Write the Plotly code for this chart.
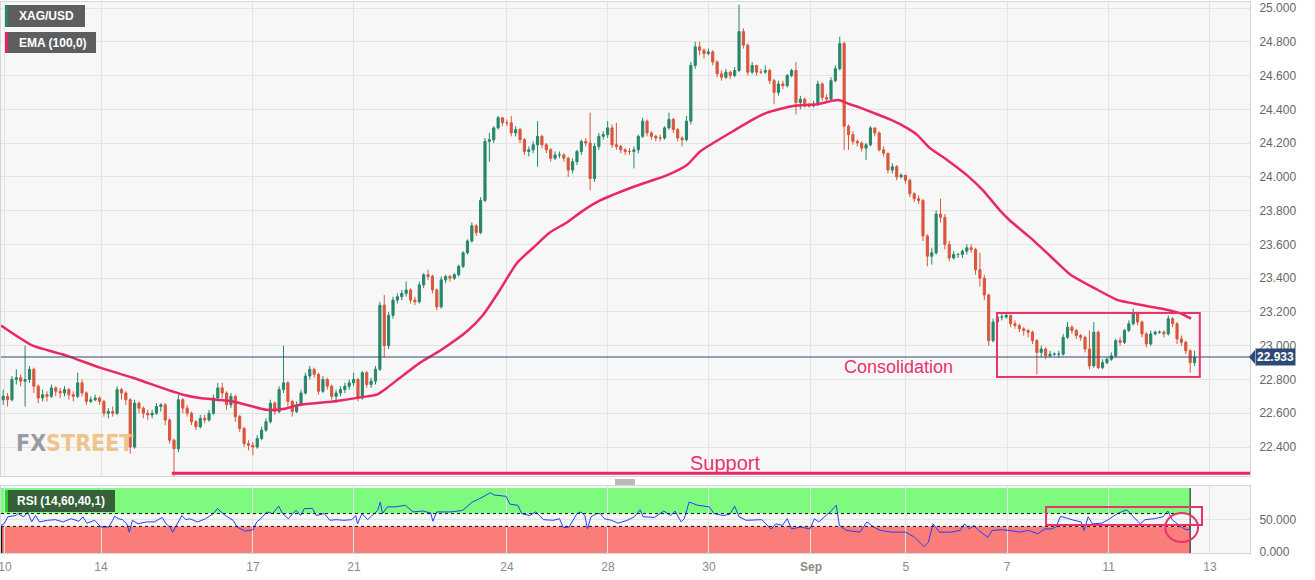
import plotly.graph_objects as go

# ---------------- data ----------------
first_open = 22.68
close = [
    22.70, 22.68, 22.80, 22.81, 22.79, 22.80, 22.86, 22.76, 22.69, 22.71,
    22.70, 22.75, 22.73, 22.72, 22.74, 22.71, 22.70, 22.78, 22.72, 22.67,
    22.68, 22.69, 22.67, 22.60, 22.61, 22.60, 22.74, 22.72, 22.68, 22.40,
    22.66, 22.63, 22.60, 22.59, 22.60, 22.64, 22.65, 22.56, 22.44, 22.39,
    22.68, 22.63, 22.60, 22.55, 22.52, 22.57, 22.56, 22.60, 22.69, 22.75,
    22.72, 22.65, 22.70, 22.58, 22.51, 22.42, 22.41, 22.40, 22.45, 22.50,
    22.55, 22.66, 22.61, 22.74, 22.78, 22.67, 22.61, 22.65, 22.72, 22.82,
    22.86, 22.83, 22.73, 22.80, 22.76, 22.70, 22.72, 22.74, 22.76, 22.78,
    22.80, 22.69, 22.84, 22.77, 22.79, 22.86, 23.24, 23.00, 23.18, 23.27,
    23.29, 23.31, 23.33, 23.27, 23.26, 23.36, 23.42, 23.41, 23.33, 23.23,
    23.39, 23.41, 23.40, 23.42, 23.47, 23.55, 23.62, 23.71, 23.67, 23.86,
    24.21, 24.22, 24.29, 24.35, 24.32, 24.32, 24.26, 24.28, 24.22, 24.15,
    24.16, 24.19, 24.24, 24.19, 24.16, 24.11, 24.13, 24.13, 24.11, 24.04,
    24.09, 24.15, 24.21, 24.20, 23.99, 24.18, 24.24, 24.25, 24.29, 24.19,
    24.18, 24.16, 24.15, 24.15, 24.16, 24.24, 24.33, 24.26, 24.24, 24.23,
    24.23, 24.29, 24.34, 24.28, 24.23, 24.22, 24.33, 24.66, 24.77, 24.75,
    24.73, 24.74, 24.68, 24.61, 24.59, 24.62, 24.60, 24.63, 24.86, 24.78,
    24.62, 24.66, 24.62, 24.62, 24.63, 24.57, 24.50, 24.55, 24.54, 24.60,
    24.63, 24.44, 24.46, 24.42, 24.42, 24.43, 24.55, 24.47, 24.46, 24.57,
    24.64, 24.79, 24.30, 24.25, 24.21, 24.20, 24.17, 24.19, 24.29, 24.26,
    24.16, 24.14, 24.04, 24.06, 24.00, 24.01, 23.98, 23.90, 23.87, 23.86,
    23.65, 23.53, 23.55, 23.78, 23.76, 23.60, 23.52, 23.54, 23.54, 23.56,
    23.58, 23.57, 23.45, 23.40, 23.30, 23.03, 23.14, 23.17, 23.17, 23.18,
    23.13, 23.12, 23.10, 23.09, 23.08, 23.03, 22.96, 22.98, 22.94, 22.95,
    22.95, 22.95, 23.05, 23.11, 23.09, 23.06, 23.05, 22.98, 22.88, 23.08,
    22.87, 22.90, 22.92, 22.94, 23.03, 23.02, 23.09, 23.13, 23.19, 23.14,
    23.07, 23.01, 23.07, 23.08, 23.08, 23.07, 23.16, 23.13, 23.04, 23.02,
    22.97, 22.90, 22.933,
]
high = [
    22.74, 22.72, 22.82, 22.86, 22.83, 23.00, 22.88, 22.87, 22.77, 22.74,
    22.73, 22.77, 22.76, 22.75, 22.76, 22.75, 22.73, 22.84, 22.80, 22.73,
    22.70, 22.71, 22.70, 22.68, 22.63, 22.64, 22.76, 22.75, 22.73, 22.69,
    22.68, 22.67, 22.64, 22.62, 22.62, 22.66, 22.66, 22.66, 22.57, 22.45,
    22.71, 22.69, 22.65, 22.61, 22.56, 22.59, 22.59, 22.62, 22.71, 22.78,
    22.78, 22.73, 22.72, 22.71, 22.59, 22.52, 22.44, 22.43, 22.47, 22.52,
    22.57, 22.68, 22.67, 22.76, 23.00, 22.79, 22.68, 22.67, 22.74, 22.84,
    22.88, 22.87, 22.84, 22.82, 22.81, 22.77, 22.74, 22.76, 22.78, 22.80,
    22.84, 22.81, 22.85, 22.85, 22.81, 22.88, 23.26, 23.30, 23.20, 23.29,
    23.31, 23.33, 23.38, 23.34, 23.29, 23.38, 23.43, 23.45, 23.42, 23.34,
    23.41, 23.42, 23.42, 23.43, 23.48, 23.56, 23.63, 23.73, 23.72, 23.88,
    24.23, 24.26, 24.30, 24.36, 24.35, 24.34, 24.36, 24.30, 24.29, 24.23,
    24.18, 24.21, 24.33, 24.25, 24.20, 24.17, 24.15, 24.15, 24.14, 24.12,
    24.11, 24.16, 24.22, 24.23, 24.38, 24.20, 24.26, 24.27, 24.33, 24.31,
    24.32, 24.19, 24.17, 24.17, 24.18, 24.25, 24.35, 24.34, 24.27, 24.25,
    24.25, 24.30, 24.38, 24.35, 24.29, 24.24, 24.36, 24.68, 24.80, 24.80,
    24.76, 24.76, 24.75, 24.69, 24.63, 24.64, 24.63, 24.65, 25.02, 24.88,
    24.79, 24.68, 24.66, 24.64, 24.66, 24.64, 24.58, 24.57, 24.57, 24.61,
    24.64, 24.68, 24.48, 24.47, 24.44, 24.45, 24.57, 24.56, 24.49, 24.59,
    24.66, 24.83, 24.80, 24.31, 24.27, 24.22, 24.21, 24.20, 24.30, 24.29,
    24.27, 24.18, 24.14, 24.08, 24.07, 24.02, 24.01, 23.99, 23.91, 23.89,
    23.87, 23.66, 23.58, 23.80, 23.87, 23.78, 23.62, 23.56, 23.55, 23.57,
    23.60, 23.60, 23.58, 23.55, 23.42, 23.31, 23.16, 23.18, 23.19, 23.19,
    23.18, 23.15, 23.13, 23.11, 23.10, 23.09, 23.04, 23.00, 22.99, 22.97,
    22.96, 22.97, 23.07, 23.14, 23.12, 23.10, 23.07, 23.06, 23.09, 23.14,
    23.09, 22.92, 22.93, 22.96, 23.04, 23.05, 23.10, 23.15, 23.22, 23.20,
    23.15, 23.08, 23.09, 23.09, 23.09, 23.09, 23.18, 23.17, 23.14, 23.06,
    23.03, 22.98, 22.97,
]
low = [
    22.65, 22.64, 22.67, 22.77, 22.76, 22.64, 22.78, 22.72, 22.66, 22.67,
    22.67, 22.69, 22.70, 22.69, 22.70, 22.68, 22.67, 22.69, 22.70, 22.65,
    22.66, 22.67, 22.65, 22.58, 22.57, 22.58, 22.59, 22.68, 22.65, 22.36,
    22.39, 22.60, 22.57, 22.56, 22.57, 22.59, 22.61, 22.53, 22.42, 22.22,
    22.37, 22.60, 22.58, 22.53, 22.50, 22.51, 22.54, 22.55, 22.59, 22.67,
    22.69, 22.62, 22.63, 22.55, 22.49, 22.40, 22.38, 22.35, 22.39, 22.44,
    22.49, 22.54, 22.59, 22.60, 22.72, 22.64, 22.58, 22.60, 22.64, 22.71,
    22.80, 22.81, 22.71, 22.72, 22.74, 22.68, 22.66, 22.70, 22.72, 22.74,
    22.76, 22.67, 22.68, 22.75, 22.75, 22.77, 22.85, 22.93, 22.98, 23.16,
    23.25, 23.27, 23.29, 23.25, 23.24, 23.25, 23.34, 23.39, 23.31, 23.21,
    23.22, 23.37, 23.38, 23.39, 23.41, 23.46, 23.54, 23.61, 23.65, 23.66,
    23.85, 24.09, 24.20, 24.28, 24.30, 24.30, 24.24, 24.24, 24.20, 24.13,
    24.12, 24.14, 24.06, 24.17, 24.14, 24.09, 24.10, 24.11, 24.09, 24.00,
    24.02, 24.07, 24.13, 24.18, 23.92, 23.97, 24.16, 24.22, 24.23, 24.17,
    24.16, 24.14, 24.13, 24.13, 24.05, 24.14, 24.23, 24.24, 24.22, 24.21,
    24.21, 24.22, 24.28, 24.26, 24.21, 24.18, 24.21, 24.31, 24.64, 24.72,
    24.70, 24.72, 24.66, 24.59, 24.57, 24.58, 24.58, 24.59, 24.62, 24.76,
    24.60, 24.61, 24.60, 24.61, 24.61, 24.55, 24.43, 24.48, 24.52, 24.53,
    24.59, 24.37, 24.40, 24.41, 24.41, 24.41, 24.42, 24.45, 24.44, 24.45,
    24.56, 24.63, 24.16, 24.16, 24.19, 24.18, 24.15, 24.10, 24.18, 24.24,
    24.15, 24.12, 24.02, 24.02, 23.98, 23.99, 23.96, 23.88, 23.85, 23.84,
    23.62, 23.47, 23.48, 23.54, 23.73, 23.57, 23.50, 23.51, 23.52, 23.52,
    23.54, 23.55, 23.42, 23.35, 23.27, 23.00, 23.02, 23.10, 23.15, 23.16,
    23.11, 23.10, 23.08, 23.06, 23.05, 23.01, 22.83, 22.93, 22.92, 22.93,
    22.94, 22.93, 22.94, 23.04, 23.07, 23.04, 23.03, 22.96, 22.86, 22.87,
    22.86, 22.86, 22.89, 22.91, 22.93, 23.00, 23.01, 23.08, 23.12, 23.12,
    23.05, 22.99, 23.00, 23.06, 23.07, 23.05, 23.06, 23.11, 23.01, 23.00,
    22.95, 22.84, 22.88,
]

ema_k = [-0.5, 6.8, 14.6, 22.1, 29.6, 37.4, 41.1, 44.9, 48.7, 52.5,
         60.2, 63.9, 67.8, 75.3, 83.1, 85.3, 87.6, 90.6, 95.2, 99.7,
         106.1, 109.5, 113.4, 117.3, 121.0, 124.8, 128.7, 132.4, 136.3, 143.8,
         151.6, 156.1, 159.1, 166.6, 170.5, 174.4, 180.3, 185.8, 190.6, 193.3,
         195.6, 198.6, 202.5, 206.3, 208.6, 211.6, 215.5, 220.0, 223.7, 227.6,
         229.9, 234.5, 239.1, 243.7, 249.9, 254.5, 258.1, 264.3, 268.9, 271.2]
ema_v = [23.12, 23.00, 22.94, 22.87, 22.81, 22.74, 22.71, 22.69, 22.68, 22.67,
         22.62, 22.625, 22.65, 22.67, 22.70, 22.71, 22.75, 22.81, 22.90, 22.97,
         23.09, 23.18, 23.33, 23.49, 23.58, 23.67, 23.73, 23.80, 23.86, 23.94,
         24.01, 24.07, 24.15, 24.27, 24.33, 24.38, 24.42, 24.43, 24.455, 24.43,
         24.41, 24.38, 24.34, 24.29, 24.25, 24.17, 24.10, 24.01, 23.92, 23.80,
         23.74, 23.64, 23.53, 23.42, 23.33, 23.27, 23.25, 23.22, 23.19, 23.16]

rsi_k = [-0.5, 0.18, 1.08, 2.88, 3.33, 4.68, 5.59, 6.49, 7.39, 8.29,
         10.1, 11.9, 13.7, 15.5, 17.3, 18.2, 19.1, 20.9, 22.3, 24.1,
         25.0, 25.4, 26.3, 27.2, 28.2, 28.8, 29.5, 30.8, 32.7, 34.5,
         35.4, 36.3, 37.2, 38.1, 38.7, 39.4, 40.8, 41.7, 42.6, 44.4,
         46.2, 48.0, 48.9, 50.7, 52.5, 53.4, 55.2, 57.0, 57.9, 58.8,
         60.2, 61.5, 62.9, 63.8, 65.1, 66.1, 66.9, 67.9, 68.8, 70.6,
         71.5, 73.3, 74.6, 76.0, 77.8, 79.6, 80.5, 80.9, 81.9, 83.2,
         84.6, 85.5, 86.1, 86.6, 87.7, 89.5, 91.8, 93.6, 95.8, 97.6,
         98.1, 99.0, 102.2, 104.9, 107.1, 108.9, 111.2, 112.1, 114.8, 115.7,
         117.5, 118.4, 120.2, 121.6, 123.4, 125.6, 127.0, 127.9, 129.2, 131.0,
         131.9, 132.8, 133.4, 134.2, 135.5, 136.3, 137.3, 138.9, 140.4, 142.5,
         144.1, 145.4, 146.1, 148.7, 150.8, 152.4, 153.4, 154.8, 155.5, 156.6,
         158.6, 161.2, 162.3, 164.4, 165.9, 167.0, 168.0, 169.6, 173.2, 175.3,
         176.4, 177.9, 179.0, 180.0, 182.1, 184.2, 185.2, 186.2, 188.8, 190.2,
         190.9, 192.5, 195.6, 197.2, 198.7, 200.3, 202.9, 206.0, 208.1, 210.2,
         211.2, 212.3, 213.8, 216.4, 218.5, 219.5, 220.6, 221.6, 222.7, 224.8,
         225.8, 227.9, 229.9, 232.0, 234.1, 236.2, 237.8, 239.3, 240.4, 241.4,
         244.5, 246.1, 246.8, 247.7, 248.7, 250.8, 252.3, 254.4, 256.5, 258.1,
         259.6, 260.7, 262.8, 264.8, 265.9, 266.9, 268.0, 269.0, 270.1, 270.9]
rsi_v = [41.6, 44, 55, 57, 60, 55, 62.6, 47, 57, 47,
         49.5, 50.5, 47, 52, 48, 55, 45, 49.5, 39, 39,
         49.5, 56, 52, 50.5, 44, 31, 49.5, 44, 47, 47,
         50.5, 54, 44, 39, 31, 39, 57, 50.5, 52, 47,
         52, 60, 68, 57, 49.5, 39, 32.6, 34.7, 47, 52,
         62.6, 60, 71.6, 60, 52, 60, 65, 57, 68, 68,
         57, 60, 49.5, 50.5, 49.5, 50.5, 57, 44, 60, 50.5,
         60, 65, 78, 60, 70.5, 70.5, 73, 62.6, 64, 61,
         48, 62.6, 62.6, 65, 78, 83.7, 92.6, 89, 87, 74.7,
         73, 60, 57, 62.6, 50.5, 49.5, 52, 38, 39, 60,
         62.6, 57, 36, 55, 60, 60, 52, 49.5, 45, 49.5,
         55, 66, 55, 54, 64, 57, 64, 47, 52, 78,
         73, 70.5, 60, 57, 59, 71.6, 55, 49.5, 50.5, 36,
         44, 41.6, 52, 36, 39, 36, 52, 47, 62.6, 73,
         41.6, 33.7, 31, 47, 39, 33.7, 31, 31, 23, 8.4,
         15, 44, 31, 31, 33.7, 44, 36, 41.6, 33.7, 23,
         33.7, 34.7, 33.7, 31, 33.7, 28.4, 36, 36, 39, 55.8,
         49.5, 47, 33.7, 55, 44, 45, 50.5, 60, 66, 55,
         44, 50.5, 52, 55, 64, 50.5, 44, 39, 34.7, 36]

tick_pos = [0.41, 22.33, 57.03, 80.09, 115.02, 138.08, 161.14, 184.43, 206.1, 229.2, 252.4, 275.5]
tick_text = ["10", "14", "17", "21", "24", "28", "30", "<b>Sep</b>", "5", "7", "11", "13"]

last_price = 22.933
support_level = 22.245
rsi_upper, rsi_lower = 60, 40

# ---------------- geometry / style ----------------
W, H = 1315, 580
ML, MR, MT, MB = 1, 65, 2, 27
PW = W - ML - MR
PH = H - MT - MB
def pxx(x):
    return (x - ML) / PW
def pyy(y):
    return (H - MB - y) / PH

XR = [-0.5, (1250 - 1) / 4.38 - 0.5]
YR = [25 - (476 - 8) / 168.85, 25 + (8 - 2) / 168.85]
Y2R = [-1.56, 103.1]
DATA_END = 271.0

UP = "#26876b"
DN = "#d9573b"
PINK = "#e8285f"
PINK_TXT = "#e8336b"
GRID = "#e4e4e4"
BORDER = "#cfd6de"
FONT = "Liberation Sans, Arial, sans-serif"

opens = [first_open] + close[:-1]
idx = list(range(len(close)))

fig = go.Figure()
fig.add_trace(go.Candlestick(
    x=idx, open=opens, high=high, low=low, close=close,
    increasing=dict(line=dict(color=UP, width=1), fillcolor=UP),
    decreasing=dict(line=dict(color=DN, width=1), fillcolor=DN),
    whiskerwidth=0, showlegend=False, hoverinfo="skip",
    xaxis="x", yaxis="y"))
fig.add_trace(go.Scatter(
    x=ema_k, y=ema_v, mode="lines",
    line=dict(color="#ea2864", width=2.5, shape="spline", smoothing=0.6),
    showlegend=False, hoverinfo="skip", xaxis="x", yaxis="y"))
fig.add_trace(go.Scatter(
    x=rsi_k, y=rsi_v, mode="lines",
    line=dict(color="#2541f2", width=1),
    showlegend=False, hoverinfo="skip", xaxis="x2", yaxis="y2"))

shapes = []
# RSI bands
shapes.append(dict(type="rect", xref="x2", yref="y2", x0=XR[0], x1=DATA_END, y0=rsi_upper, y1=100,
                   fillcolor="#7efb7e", line=dict(width=0), layer="below"))
shapes.append(dict(type="rect", xref="x2", yref="y2", x0=XR[0], x1=DATA_END, y0=Y2R[0], y1=rsi_lower,
                   fillcolor="#fa7d79", line=dict(width=0), layer="below"))
for lvl in (rsi_upper, rsi_lower):
    shapes.append(dict(type="line", xref="x2", yref="y2", x0=XR[0], x1=DATA_END, y0=lvl, y1=lvl,
                       line=dict(color="#111111", width=1, dash="dot")))
shapes.append(dict(type="line", xref="x2", yref="y2", x0=DATA_END, x1=DATA_END, y0=Y2R[0], y1=100,
                   line=dict(color="#111111", width=1)))
shapes.append(dict(type="line", xref="x2", yref="y2", x0=-0.4, x1=-0.4, y0=Y2R[0], y1=rsi_lower,
                   line=dict(color="#111111", width=1.5)))
# last price line
shapes.append(dict(type="line", xref="x", yref="y", x0=XR[0], x1=XR[1], y0=last_price, y1=last_price,
                   line=dict(color="#2c4a74", width=1)))
# support line
shapes.append(dict(type="line", xref="x", yref="y", x0=38.5, x1=XR[1], y0=support_level, y1=support_level,
                   line=dict(color=PINK, width=3)))
# consolidation box
shapes.append(dict(type="rect", xref="x", yref="y", x0=226.9, x1=273.2, y0=22.815, y1=23.194,
                   line=dict(color=PINK_TXT, width=2), fillcolor="rgba(0,0,0,0)"))
# RSI box and circle
shapes.append(dict(type="rect", xref="x2", yref="y2", x0=238.1, x1=273.7, y0=42.2, y1=70.3,
                   line=dict(color=PINK_TXT, width=2), fillcolor="rgba(0,0,0,0)"))
shapes.append(dict(type="circle", xref="x2", yref="y2", x0=265.3, x1=272.8, y0=15.6, y1=61.0,
                   line=dict(color=PINK_TXT, width=2), fillcolor="rgba(0,0,0,0)"))
# legend boxes
def box(x0, y0, x1, y1, fill):
    return dict(type="rect", xref="paper", yref="paper", x0=pxx(x0), x1=pxx(x1), y0=pyy(y1), y1=pyy(y0),
                fillcolor=fill, line=dict(width=0))
shapes.append(box(5, 5, 85, 27, "#5e5e5e"))
shapes.append(box(5, 5, 8, 27, UP))
shapes.append(box(5, 32, 96, 53, "#5e5e5e"))
shapes.append(box(5, 32, 8, 53, "#e91e63"))
shapes.append(box(5, 490, 115, 512, "#35603a"))
shapes.append(box(5, 490, 8, 512, "#1ed41e"))
# price tag arrow
shapes.append(dict(type="path", xref="paper", yref="paper",
                   path="M {} {} L {} {} L {} {} Z".format(pxx(1249), pyy(357), pxx(1255), pyy(350), pxx(1255), pyy(364)),
                   fillcolor="#2c4a74", line=dict(width=0)))
# panel divider handle
for yy in (480, 482, 484):
    shapes.append(dict(type="line", xref="paper", yref="paper", x0=pxx(615), x1=pxx(635), y0=pyy(yy), y1=pyy(yy),
                       line=dict(color="#777777", width=1)))

annotations = [
    dict(text="Consolidation", x=204.3, y=22.874, xref="x", yref="y", showarrow=False,
         font=dict(family=FONT, size=18, color=PINK_TXT)),
    dict(text="Support", x=164.8, y=22.305, xref="x", yref="y", showarrow=False,
         font=dict(family=FONT, size=20, color=PINK_TXT)),
    dict(text="<b>22.933</b>", x=pxx(1255), y=pyy(357), xref="paper", yref="paper",
         xanchor="left", yanchor="middle", showarrow=False, bgcolor="#2c4a74", borderpad=1,
         font=dict(family=FONT, size=12, color="white")),
    dict(text="<b>XAG/USD</b>", x=pxx(17), y=pyy(16), xref="paper", yref="paper", xanchor="left", yanchor="middle",
         showarrow=False, font=dict(family=FONT, size=12, color="white")),
    dict(text="<b>EMA (100,0)</b>", x=pxx(17), y=pyy(42.5), xref="paper", yref="paper", xanchor="left", yanchor="middle",
         showarrow=False, font=dict(family=FONT, size=12, color="white")),
    dict(text="<b>RSI (14,60,40,1)</b>", x=pxx(15), y=pyy(501), xref="paper", yref="paper", xanchor="left", yanchor="middle",
         showarrow=False, font=dict(family=FONT, size=12, color="white")),
    dict(text='<b><span style="color:#8e9298">FX</span><span style="color:#efbf80">STREET</span></b>',
         x=pxx(14), y=pyy(442.5), xref="paper", yref="paper", xanchor="left", yanchor="middle",
         showarrow=False, opacity=0.9,
         font=dict(family="Liberation Sans Narrow, DejaVu Sans Condensed, sans-serif", size=23)),
]

axis_common = dict(showgrid=True, gridcolor=GRID, gridwidth=1, zeroline=False, automargin=False,
                   showline=True, mirror=True, linecolor=BORDER, linewidth=1, ticks="")

fig.update_layout(
    width=W, height=H, margin=dict(l=ML, r=MR, t=MT, b=MB, autoexpand=False),
    paper_bgcolor="white", plot_bgcolor="#f7f7f7", showlegend=False,
    font=dict(family=FONT),
    xaxis=dict(domain=[0, 1], anchor="y", range=XR, tickmode="array", tickvals=tick_pos, ticktext=tick_text,
               showticklabels=False, rangeslider=dict(visible=False), **axis_common),
    yaxis=dict(domain=[pyy(476), 1], anchor="x", side="right", range=YR, tick0=0, dtick=0.2, tickformat=".3f",
               tickfont=dict(size=12, color="#666666"), ticklabelstandoff=6, ticklabeloverflow="allow",
               **axis_common),
    xaxis2=dict(domain=[0, 1], anchor="y2", range=XR, tickmode="array", tickvals=tick_pos, ticktext=tick_text,
                tickfont=dict(size=12, color="#8a8a8a"), rangeslider=dict(visible=False),
                ticklabelstandoff=3, ticklabeloverflow="allow", **axis_common),
    yaxis2=dict(domain=[0, pyy(486)], anchor="x2", side="right", range=Y2R, tickmode="array",
                tickvals=[0, 50], ticktext=["0.000", "50.000"], ticklabeloverflow="allow",
                tickfont=dict(size=12, color="#666666"), ticklabelstandoff=6, **axis_common),
    shapes=shapes, annotations=annotations,
)

fig.write_html("out.html", config={"displayModeBar": False},
               post_script="document.body.style.margin='0';document.body.style.overflow='hidden';")
